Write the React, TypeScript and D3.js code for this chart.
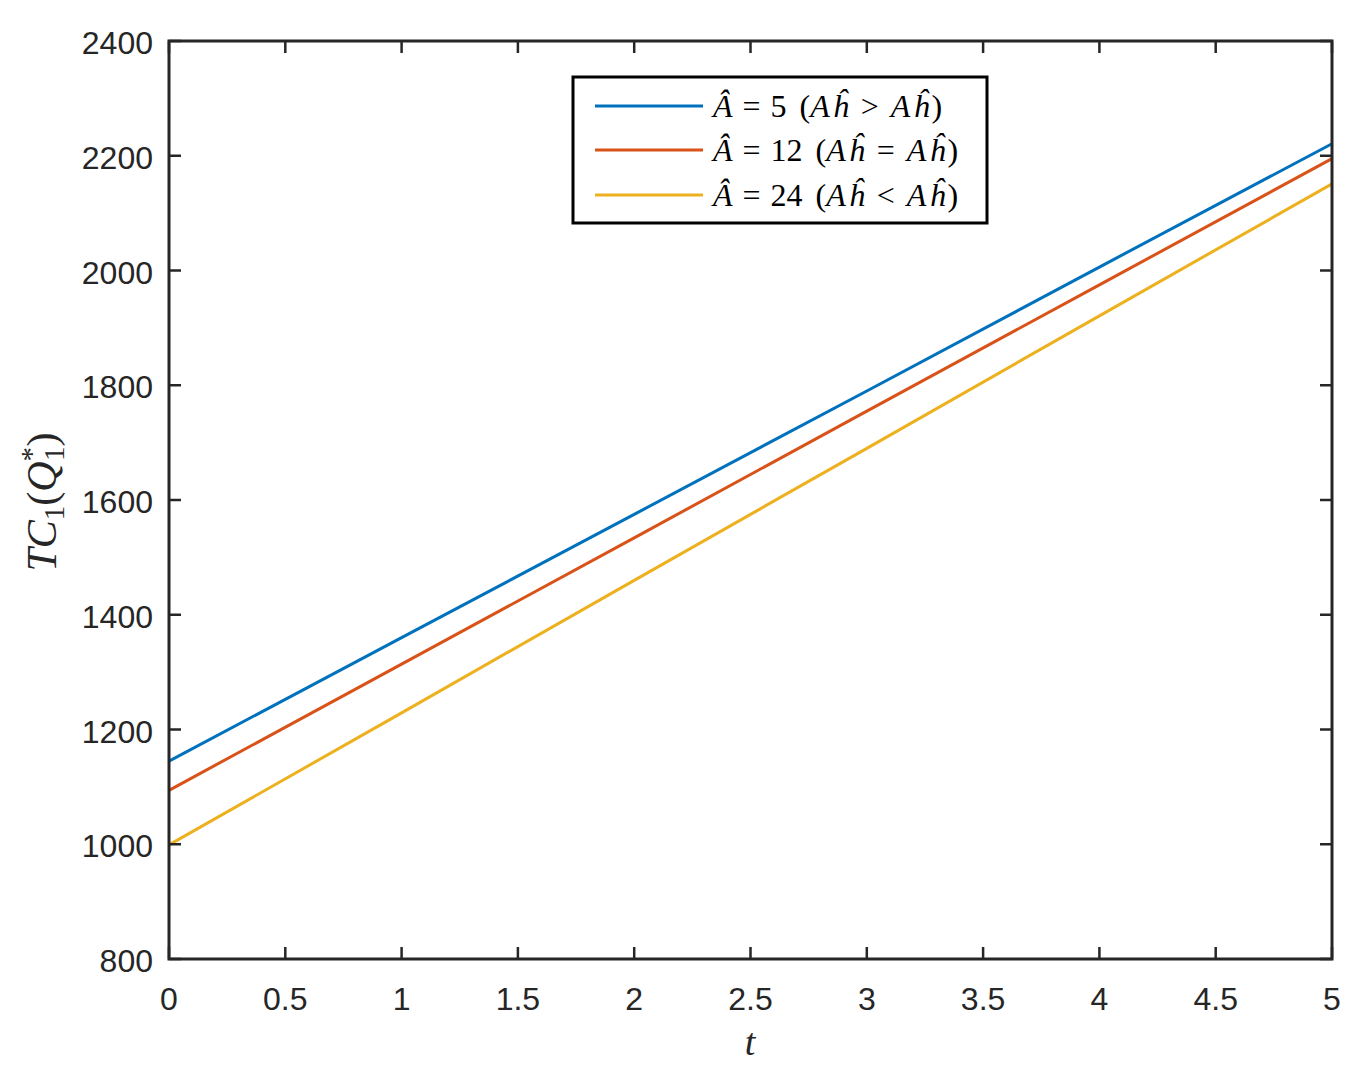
import React from "react";
import * as d3 from "d3";

const tValues = [0, 1, 2, 3, 4, 5];
const seriesA5 = [1145, 1360, 1575, 1790, 2006, 2221];
const seriesA12 = [1094, 1314, 1534, 1755, 1975, 2195];
const seriesA24 = [999, 1229, 1460, 1690, 1921, 2151];
const xTicks = [0, 0.5, 1, 1.5, 2, 2.5, 3, 3.5, 4, 4.5, 5];
const yTicks = [800, 1000, 1200, 1400, 1600, 1800, 2000, 2200, 2400];
const legendNums = ["5", "12", "24"];
const legendOps = [">", "=", "<"];

const W = 1364, H = 1073;
const L = 169, R = 1332, T = 41, B = 959;
const colors = ["#0072BD", "#D95319", "#EDB120"];
const axisColor = "#262626";
const sans = "'Liberation Sans', Arial, Helvetica, sans-serif";
const serif = "'Liberation Serif', 'DejaVu Serif', serif";

export default function App() {
  const x = d3.scaleLinear().domain([0, 5]).range([L, R]);
  const y = d3.scaleLinear().domain([800, 2400]).range([B, T]);
  const line = d3.line<number>().x((_, i) => x(tValues[i])).y((d) => y(d));
  const series = [seriesA5, seriesA12, seriesA24];
  const tick = 12;
  const legY = [106, 150, 195];
  return (
    <svg width={W} height={H} style={{ position: "absolute", left: 0, top: 0, background: "#fff" }}>
      <rect x={0} y={0} width={W} height={H} fill="#fff" />
      {series.map((s, i) => (
        <path key={i} d={line(s) || ""} fill="none" stroke={colors[i]} strokeWidth={3} />
      ))}
      {/* box */}
      <rect x={L} y={T} width={R - L} height={B - T} fill="none" stroke={axisColor} strokeWidth={3} />
      {xTicks.map((v) => (
        <g key={"x" + v}>
          <line x1={x(v)} x2={x(v)} y1={B} y2={B - tick} stroke={axisColor} strokeWidth={2.5} />
          <line x1={x(v)} x2={x(v)} y1={T} y2={T + tick} stroke={axisColor} strokeWidth={2.5} />
          <text x={x(v)} y={1010} textAnchor="middle" fontFamily={sans} fontSize={32} fill={axisColor}>
            {String(v)}
          </text>
        </g>
      ))}
      {yTicks.map((v) => (
        <g key={"y" + v}>
          <line x1={L} x2={L + tick} y1={y(v)} y2={y(v)} stroke={axisColor} strokeWidth={2.5} />
          <line x1={R} x2={R - tick} y1={y(v)} y2={y(v)} stroke={axisColor} strokeWidth={2.5} />
          <text x={153} y={y(v) + 13} textAnchor="end" fontFamily={sans} fontSize={32} fill={axisColor}>
            {String(v)}
          </text>
        </g>
      ))}
      {/* x label */}
      <text x={750} y={1055} textAnchor="middle" fontFamily={serif} fontStyle="italic" fontSize={38} fill={axisColor}>
        t
      </text>
      {/* y label */}
      <text transform="translate(56,502) rotate(-90)" textAnchor="middle" fontFamily={serif} fontSize={42} fill={axisColor}>
        <tspan fontStyle="italic">TC</tspan>
        <tspan fontSize={29} dy={8}>1</tspan>
        <tspan dy={-8}>(</tspan>
        <tspan fontStyle="italic">Q</tspan>
        <tspan fontSize={29} dy={-15}>*</tspan>
        <tspan fontSize={29} dx={-14} dy={23}>1</tspan>
        <tspan dy={-8}>)</tspan>
      </text>
      {/* legend */}
      <rect x={573} y={77} width={414} height={146} fill="#fff" stroke="#000" strokeWidth={3} />
      {legY.map((ly, i) => (
        <g key={"l" + i}>
          <line x1={595} x2={703} y1={ly} y2={ly} stroke={colors[i]} strokeWidth={3} />
          <text x={713} y={ly + 11} fontFamily={serif} fontSize={32} fill="#000">
            <tspan fontStyle="italic">Â</tspan>
            <tspan dx={10}>=</tspan>
            <tspan dx={10}>{legendNums[i]}</tspan>
            <tspan dx={13}>(</tspan>
            <tspan fontStyle="italic">A</tspan>
            <tspan fontStyle="italic" dx={3}>ĥ</tspan>
            <tspan dx={12}>{legendOps[i]}</tspan>
            <tspan fontStyle="italic" dx={12}>A</tspan>
            <tspan fontStyle="italic" dx={3}>ĥ</tspan>
            <tspan dx={2}>)</tspan>
          </text>
        </g>
      ))}
    </svg>
  );
}
